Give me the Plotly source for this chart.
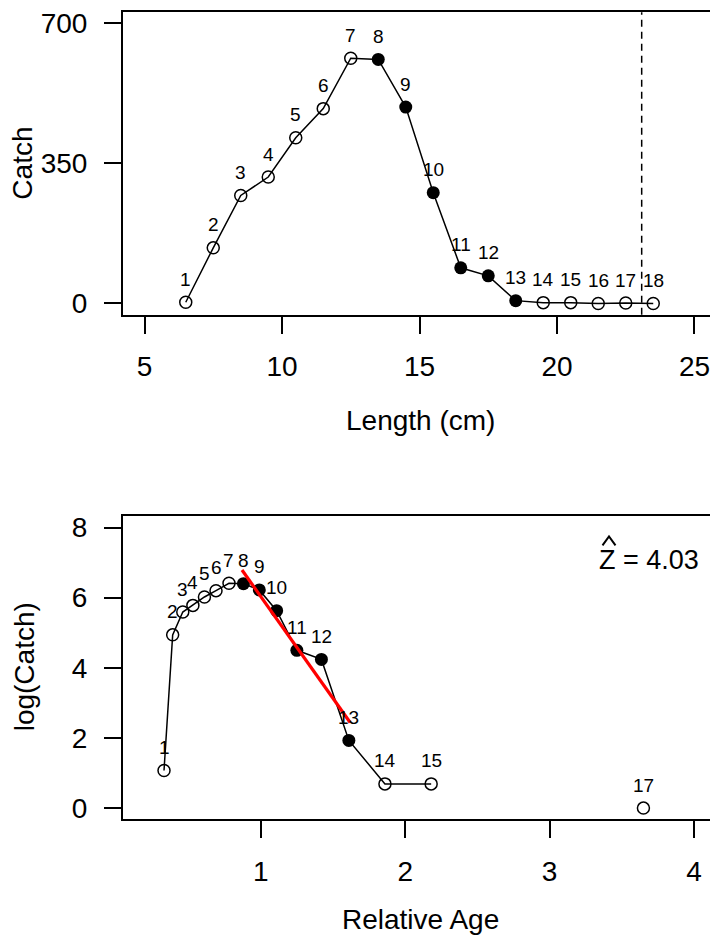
import plotly.graph_objects as go

# ---------------- data ----------------
length_cm = [6.5, 7.5, 8.5, 9.5, 10.5, 11.5, 12.5, 13.5, 14.5, 15.5,
             16.5, 17.5, 18.5, 19.5, 20.5, 21.5, 22.5, 23.5]
catch = [3, 139, 270, 316, 414, 487, 613, 610, 491, 277,
         89, 69, 7, 2, 2, 0, 1, 0]
point_labels = [str(i) for i in range(1, 19)]
selected = [8, 9, 10, 11, 12, 13]

rel_age = [0.33, 0.39, 0.46, 0.53, 0.61, 0.69, 0.78, 0.88, 0.99, 1.11,
           1.25, 1.42, 1.61, 1.86, 2.18, 2.67, 3.65, None]
log_catch = [1.07, 4.94, 5.59, 5.78, 6.02, 6.20, 6.41, 6.40, 6.22, 5.63,
             4.50, 4.24, 1.93, 0.69, 0.69, None, 0.0, None]

linf_cm = 23.08
fit_age = [0.87, 1.619]
fit_log = [6.79, 2.44]
z_hat = "4.03"

top_xticks = [5, 10, 15, 20, 25]
top_yticks = [0, 350, 700]
bot_xticks = [1, 2, 3, 4]
bot_yticks = [0, 2, 4, 6, 8]

# ---------------- layout geometry ----------------
W, H = 710, 942
FONT = "Arial, 'Liberation Sans', sans-serif"
BIG = 28


def py(px):  # pixel from top -> paper fraction
    return 1 - px / H


def pxx(px):
    return px / W


x_dom = [123 / W, 1.0]
top_dom = [py(313.3), py(8.3)]
bot_dom = [py(822.3), py(516.7)]

fig = go.Figure()

is_sel = [(i + 1) in selected for i in range(len(length_cm))]


def add_panel(xs, ys, xa, ya):
    fig.add_trace(go.Scatter(x=xs, y=ys, mode="lines",
                             line=dict(color="black", width=1.5),
                             connectgaps=False, xaxis=xa, yaxis=ya,
                             hoverinfo="skip", showlegend=False))
    ox = [x for x, y, s in zip(xs, ys, is_sel) if not s and y is not None and x is not None]
    oy = [y for x, y, s in zip(xs, ys, is_sel) if not s and y is not None and x is not None]
    fx = [x for x, y, s in zip(xs, ys, is_sel) if s and y is not None]
    fy = [y for x, y, s in zip(xs, ys, is_sel) if s and y is not None]
    fig.add_trace(go.Scatter(x=ox, y=oy, mode="markers",
                             marker=dict(symbol="circle-open", size=12, color="black",
                                         line=dict(width=1.5, color="black")),
                             xaxis=xa, yaxis=ya, showlegend=False))
    fig.add_trace(go.Scatter(x=fx, y=fy, mode="markers",
                             marker=dict(symbol="circle", size=13, color="black"),
                             xaxis=xa, yaxis=ya, showlegend=False))
    for x, y, lab in zip(xs, ys, point_labels):
        if x is None or y is None:
            continue
        fig.add_annotation(x=x, y=y, xref=xa, yref=ya, text=lab, showarrow=False,
                           yshift=23, xanchor="center", yanchor="middle",
                           font=dict(size=19, color="black", family=FONT))


add_panel(length_cm, catch, "x", "y")
add_panel(rel_age, log_catch, "x2", "y2")

# red fitted line
fig.add_trace(go.Scatter(x=fit_age, y=fit_log, mode="lines",
                         line=dict(color="#FF0000", width=3.2),
                         xaxis="x2", yaxis="y2", showlegend=False))

# dashed Linf line
fig.add_shape(type="line", xref="x", yref="paper", x0=linf_cm, x1=linf_cm,
              y0=top_dom[0], y1=top_dom[1],
              line=dict(color="black", width=1.5, dash="7px,5px"))

axis_common = dict(showgrid=False, zeroline=False, showline=True, linecolor="black",
                   linewidth=2, ticks="outside", ticklen=17, tickwidth=1.5,
                   tickcolor="black", ticklabeloverflow="allow",
                   tickfont=dict(size=BIG, color="black", family=FONT))

fig.update_layout(
    width=W, height=H, margin=dict(l=0, r=0, t=0, b=0),
    paper_bgcolor="white", plot_bgcolor="white", showlegend=False,
    xaxis=dict(domain=x_dom, anchor="y", range=[4.218, 25.564], tickvals=top_xticks,
               mirror=True, ticklabelstandoff=9, **axis_common),
    yaxis=dict(domain=top_dom, anchor="x", range=[-28, 728], tickvals=top_yticks,
               ticklabelstandoff=11, **axis_common),
    xaxis2=dict(domain=x_dom, anchor="y2", range=[0.046, 4.111], tickvals=bot_xticks,
                mirror=True, ticklabelstandoff=9, **axis_common),
    yaxis2=dict(domain=bot_dom, anchor="x2", range=[-0.32, 8.32], tickvals=bot_yticks,
                ticklabelstandoff=11, **axis_common),
)

title_font = dict(size=BIG, color="black", family=FONT)
fig.add_annotation(xref="paper", yref="paper", x=pxx(23), y=py(161), text="Catch",
                   textangle=-90, showarrow=False, xanchor="center", yanchor="middle",
                   font=title_font)
fig.add_annotation(xref="paper", yref="paper", x=pxx(24), y=py(669), text="log(Catch)",
                   textangle=-90, showarrow=False, xanchor="center", yanchor="middle",
                   font=title_font)
fig.add_annotation(xref="paper", yref="paper", x=pxx(420), y=py(420), text="Length (cm)",
                   showarrow=False, xanchor="center", yanchor="middle", font=title_font)
fig.add_annotation(xref="paper", yref="paper", x=pxx(420), y=py(923), text="Relative Age",
                   showarrow=False, xanchor="center", yanchor="middle", font=title_font)

# Z-hat annotation
fig.add_annotation(xref="paper", yref="paper", x=pxx(701), y=py(561),
                   text="Z = " + z_hat, showarrow=False, xanchor="right", yanchor="middle",
                   font=dict(size=27, color="black", family=FONT))
# the hat drawn as a small wedge above the Z
fig.add_shape(type="path", xref="paper", yref="paper",
              path=f"M {pxx(602.5)} {py(546)} L {pxx(609)} {py(537)} L {pxx(615.5)} {py(546)}",
              line=dict(color="black", width=2))

fig.write_html("out.html")
